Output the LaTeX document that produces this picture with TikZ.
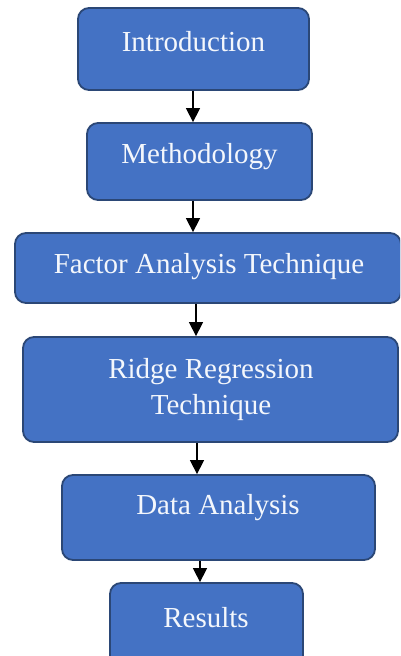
\documentclass[tikz,border=0pt]{standalone}
\usepackage{fontspec}
\setmainfont{Liberation Serif}
\usetikzlibrary{arrows.meta}
\definecolor{boxfill}{HTML}{4472C4}
\definecolor{boxedge}{HTML}{2B4776}
\definecolor{txtcol}{HTML}{F4F7FC}
\begin{document}
\begin{tikzpicture}[x=1pt,y=-1pt,
  box/.style={draw=boxedge, fill=boxfill, line width=1.8pt, rounded corners=11pt, inner sep=0pt},
  txt/.style={text=txtcol, font=\fontsize{29}{36}\selectfont, align=center, inner sep=0pt},
  arr/.style={draw=black, line width=1.4pt, -{Triangle[width=14pt,length=14pt]}}]
\useasboundingbox (0,0) rectangle (400,656);
\clip (0,0) rectangle (400,656);
\fill[white] (0,0) rectangle (400,656);
% boxes
\node[box, minimum width=231pt, minimum height=82pt] (intro) at (193.5,49) {};
\node[txt] (introT) at (193.5,42) {Introduction};
\node[box, minimum width=225pt, minimum height=77pt] (meth) at (199.5,161.5) {};
\node[txt] (methT) at (199.5,157) {Methodology};
\node[box, minimum width=386pt, minimum height=70pt] (fact) at (208,268) {};
\node[txt] (factT) at (209,267) {Factor Analysis Technique};
\node[box, minimum width=375pt, minimum height=105pt] (ridge) at (210.5,389.5) {};
\node[txt] (ridgeT) at (211,390) {Ridge Regression\\Technique};
\node[box, minimum width=313pt, minimum height=85pt] (data) at (218.5,517.5) {};
\node[txt] (dataT) at (218,508) {Data Analysis};
\node[box, minimum width=193pt, minimum height=100pt] (res) at (206.5,633) {};
\node[txt] (resT) at (206,618) {Results};
% arrow x positions
\coordinate (a1) at (193,0);
\coordinate (a2) at (193,0);
\coordinate (a3) at (196,0);
\coordinate (a4) at (197,0);
\coordinate (a5) at (200,0);
\draw[arr] (intro.south -| a1) -- (meth.north -| a1);
\draw[arr] (meth.south -| a2) -- (fact.north -| a2);
\draw[arr] (fact.south -| a3) -- (ridge.north -| a3);
\draw[arr] (ridge.south -| a4) -- (data.north -| a4);
\draw[arr] (data.south -| a5) -- (res.north -| a5);
\end{tikzpicture}
\end{document}
